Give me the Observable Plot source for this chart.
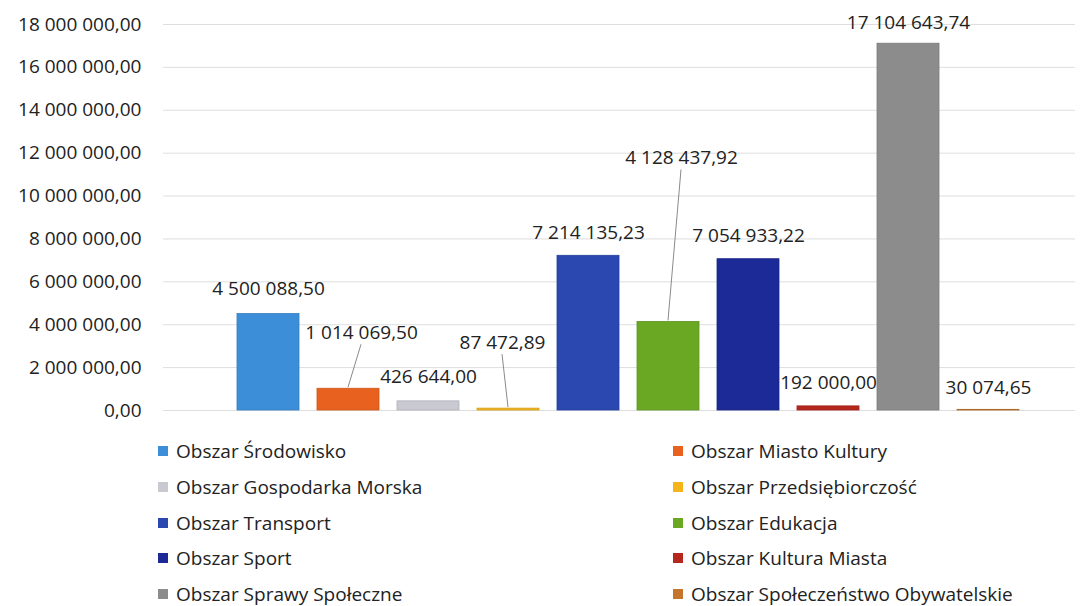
<!DOCTYPE html>
<html>
<head>
<meta charset="utf-8">
<script src="https://cdn.jsdelivr.net/npm/d3@7"></script>
<script src="https://cdn.jsdelivr.net/npm/@observablehq/plot@0.6"></script>
<style>
  html, body { margin: 0; padding: 0; background: #fff; }
  #wrap { position: relative; width: 1085px; height: 606px; font-family: "Open Sans", sans-serif; color: #222; overflow: hidden; }
  #chart svg { display: block; }
  #legend { position: absolute; left: 0; top: 432px; width: 1085px; }
  .item { position: absolute; font-size: 19px; line-height: 24px; white-space: nowrap; display: flex; align-items: center; }
  .sw { width: 10px; height: 10px; display: inline-block; margin-right: 8px; }
</style>
</head>
<body>
<div id="wrap">
  <div id="chart"></div>
  <div id="legend"></div>
</div>
<script>
const categories = [
  "Obszar Środowisko",
  "Obszar Miasto Kultury",
  "Obszar Gospodarka Morska",
  "Obszar Przedsiębiorczość",
  "Obszar Transport",
  "Obszar Edukacja",
  "Obszar Sport",
  "Obszar Kultura Miasta",
  "Obszar Sprawy Społeczne",
  "Obszar Społeczeństwo Obywatelskie"
];
const values = [4500088.50, 1014069.50, 426644.00, 87472.89, 7214135.23, 4128437.92, 7054933.22, 192000.00, 17104643.74, 30074.65];
const colors = ["#3d8ed8", "#e8611e", "#c9c9d2", "#f4b41a", "#2b47b0", "#6aa823", "#1b2a96", "#b5261d", "#8c8c8c", "#c4752c"];
const yTicks = [0, 2e6, 4e6, 6e6, 8e6, 10e6, 12e6, 14e6, 16e6, 18e6];

// label placement (pixel offsets from bar top) and which labels use leader lines
const labelOffsets = [[0,-25],[13,-56],[0,-24],[-6,-66],[0,-23],[13,-164],[0,-23],[0,-23],[0,-21],[0,-22]];
const leaderIdx = [1, 3, 5];

const pl = d3.formatLocale({decimal: ",", thousands: "\u00a0", grouping: [3], currency: ["", ""]});
const fmt = pl.format(",.2f");

const data = categories.map((c, i) => ({
  cat: c, value: values[i], color: colors[i],
  edge: d3.color(colors[i]).darker(0.35).formatHex()
}));

const labelMarks = data.map((d, i) => Plot.text([d], {
  x: "cat", y: "value", text: d => fmt(d.value),
  dx: labelOffsets[i][0], dy: labelOffsets[i][1],
  fontSize: 19, fill: "#222", textAnchor: "middle"
}));

const plot = Plot.plot({
  width: 1085,
  height: 432,
  marginLeft: 163,
  marginRight: 10,
  marginTop: 24,
  marginBottom: 22,
  style: {fontFamily: "Open Sans, sans-serif", fontSize: "19px", color: "#222", background: "#fff"},
  x: {domain: categories, padding: 0.23, insetLeft: 54, insetRight: 36, axis: null},
  y: {domain: [0, 18e6], ticks: yTicks, tickFormat: fmt, tickSize: 0, tickPadding: 22, label: null},
  color: {type: "identity"},
  marks: [
    Plot.ruleY(yTicks, {stroke: "#dedede", strokeWidth: 1}),
    Plot.barY(data, {x: "cat", y: "value", fill: d => d.color, stroke: d => d.edge, strokeWidth: 0.8}),
    ...labelMarks
  ]
});
document.getElementById("chart").appendChild(plot);

// leader lines drawn through the plot's own scales
const sx = plot.scale("x"), sy = plot.scale("y");
const svg = d3.select(plot);
leaderIdx.forEach(i => {
  const d = data[i];
  const cx = sx.apply(d.cat) + sx.bandwidth / 2;
  const y0 = sy.apply(d.value);
  svg.append("line")
    .attr("x1", cx).attr("y1", y0 - 1)
    .attr("x2", cx + labelOffsets[i][0]).attr("y2", y0 + labelOffsets[i][1] + 12)
    .attr("stroke", "#8a8a8a").attr("stroke-width", 1);
});

// legend: two columns, row-major
const legend = document.getElementById("legend");
data.forEach((d, i) => {
  const col = i % 2, row = Math.floor(i / 2);
  const el = document.createElement("div");
  el.className = "item";
  el.style.left = (col === 0 ? 158 : 673) + "px";
  el.style.top = (row * 35.8 + 7) + "px";
  el.innerHTML = `<span class="sw" style="background:${d.color}"></span><span>${d.cat}</span>`;
  legend.appendChild(el);
});
</script>
</body>
</html>
